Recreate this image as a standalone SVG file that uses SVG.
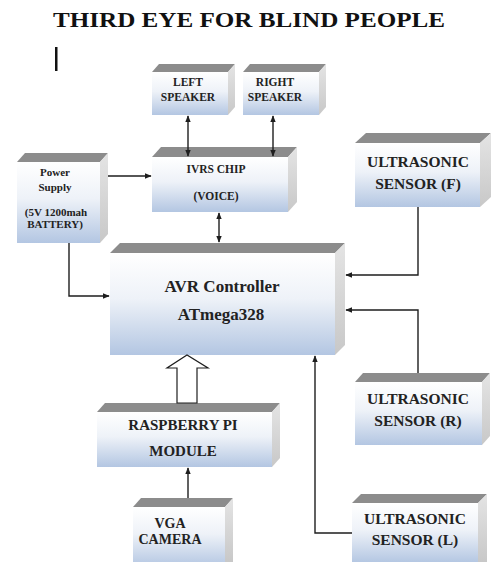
<svg xmlns="http://www.w3.org/2000/svg" width="491" height="562" viewBox="0 0 491 562">
<defs>
<linearGradient id="front" x1="0" y1="0" x2="0" y2="1">
<stop offset="0" stop-color="#ffffff"/>
<stop offset="0.45" stop-color="#eef2f8"/>
<stop offset="1" stop-color="#b3c6e2"/>
</linearGradient>
<linearGradient id="side" x1="0" y1="0" x2="0" y2="1">
<stop offset="0" stop-color="#e4e4e4"/>
<stop offset="1" stop-color="#c8c8c8"/>
</linearGradient>
<marker id="ah" viewBox="0 0 10 10" refX="9" refY="5" markerWidth="7" markerHeight="7" orient="auto-start-reverse" markerUnits="userSpaceOnUse">
<path d="M0,1 L10,5 L0,9 Z" fill="#1e1e1e"/>
</marker>
</defs>
<style>
.f{fill:url(#front);}
.t{fill:#8c8c8c;}
.s{fill:url(#side);}
text{font-family:"Liberation Serif","Times New Roman",serif;font-weight:bold;fill:#222;text-anchor:middle;}
.c{fill:none;stroke:#1e1e1e;stroke-width:1.4;}
</style>
<text x="249" y="27" font-size="21" textLength="392" lengthAdjust="spacingAndGlyphs" style="fill:#111">THIRD EYE FOR BLIND PEOPLE</text>
<rect x="55" y="47" width="2.5" height="24" fill="#111"/>

<g id="left-speaker">
<polygon class="t" points="152,72 159,64 235,64 228,72"/>
<polygon class="s" points="228,72 235,64 235,107 228,115"/>
<rect class="f" x="152" y="72" width="76" height="43"/>
<text x="188" y="86" font-size="11.5">LEFT</text>
<text x="188" y="101" font-size="11.5">SPEAKER</text>
</g>
<g id="right-speaker">
<polygon class="t" points="243,72 250,64 326,64 319,72"/>
<polygon class="s" points="319,72 326,64 326,107 319,115"/>
<rect class="f" x="243" y="72" width="76" height="43"/>
<text x="275" y="86" font-size="11.5">RIGHT</text>
<text x="275" y="101" font-size="11.5">SPEAKER</text>
</g>
<g id="ivrs">
<polygon class="t" points="152,157 161,147 297,147 288,157"/>
<polygon class="s" points="288,157 297,147 297,202 288,212"/>
<rect class="f" x="152" y="157" width="136" height="55"/>
<text x="216" y="173" font-size="11.5">IVRS CHIP</text>
<text x="216" y="200" font-size="11.5">(VOICE)</text>
</g>
<g id="power">
<polygon class="t" points="17,162 25,153 108,153 100,162"/>
<polygon class="s" points="100,162 108,153 108,234 100,243"/>
<rect class="f" x="17" y="162" width="83" height="81"/>
<text x="55" y="176" font-size="11">Power</text>
<text x="55" y="191" font-size="11">Supply</text>
<text x="56" y="216" font-size="11">(5V 1200mah</text>
<text x="55" y="228" font-size="11">BATTERY)</text>
</g>
<g id="sensor-f">
<polygon class="t" points="355,143 366,133 491,133 480,143"/>
<polygon class="s" points="480,143 491,133 491,197 480,207"/>
<rect class="f" x="355" y="143" width="125" height="64"/>
<text x="418" y="167" font-size="15.5">ULTRASONIC</text>
<text x="418" y="189" font-size="15.5">SENSOR (F)</text>
</g>
<g id="avr">
<polygon class="t" points="110,253 120,243 345,243 335,253"/>
<polygon class="s" points="335,253 345,243 345,345 335,355"/>
<rect class="f" x="110" y="253" width="225" height="102"/>
<text x="222" y="292" font-size="17">AVR Controller</text>
<text x="221" y="320" font-size="17">ATmega328</text>
</g>
<g id="raspberry">
<polygon class="t" points="97,412 105,403 280,403 272,412"/>
<polygon class="s" points="272,412 280,403 280,458 272,467"/>
<rect class="f" x="97" y="412" width="175" height="55"/>
<text x="183" y="430" font-size="15">RASPBERRY PI</text>
<text x="183" y="456" font-size="15">MODULE</text>
</g>
<g id="camera">
<polygon class="t" points="133,507 141,498 233,498 225,507"/>
<polygon class="s" points="225,507 233,498 233,562 225,562"/>
<rect class="f" x="133" y="507" width="92" height="60"/>
<text x="170" y="528" font-size="14">VGA</text>
<text x="170" y="544" font-size="14">CAMERA</text>
</g>
<g id="sensor-r">
<polygon class="t" points="355,382 363,373 490,373 482,382"/>
<polygon class="s" points="482,382 490,373 490,436 482,445"/>
<rect class="f" x="355" y="382" width="127" height="63"/>
<text x="418" y="404" font-size="15.5">ULTRASONIC</text>
<text x="418" y="426" font-size="15.5">SENSOR (R)</text>
</g>
<g id="sensor-l">
<polygon class="t" points="352,503 361,494 487,494 478,503"/>
<polygon class="s" points="478,503 487,494 487,562 478,562"/>
<rect class="f" x="352" y="503" width="126" height="60"/>
<text x="415" y="524" font-size="15.5">ULTRASONIC</text>
<text x="415" y="545" font-size="15.5">SENSOR (L)</text>
</g>

<g id="connectors">
<line class="c" x1="188" y1="116" x2="188" y2="156" marker-start="url(#ah)" marker-end="url(#ah)"/>
<line class="c" x1="273" y1="116" x2="273" y2="156" marker-start="url(#ah)" marker-end="url(#ah)"/>
<line class="c" x1="219" y1="213" x2="219" y2="242" marker-start="url(#ah)" marker-end="url(#ah)"/>
<line class="c" x1="108" y1="176" x2="151" y2="176" marker-end="url(#ah)"/>
<polyline class="c" points="69,243 69,296 109,296" marker-end="url(#ah)"/>
<polyline class="c" points="418,207 418,275 346,275" marker-end="url(#ah)"/>
<polyline class="c" points="418,373 418,310 346,310" marker-end="url(#ah)"/>
<polyline class="c" points="352,533 315,533 315,356" marker-end="url(#ah)"/>
<line class="c" x1="188" y1="498" x2="188" y2="468" marker-end="url(#ah)"/>
<polygon points="177,403 177,368 167,368 187,355 208,368 197,368 197,403" fill="#ffffff" stroke="#1e1e1e" stroke-width="1.2"/>
</g>
</svg>
